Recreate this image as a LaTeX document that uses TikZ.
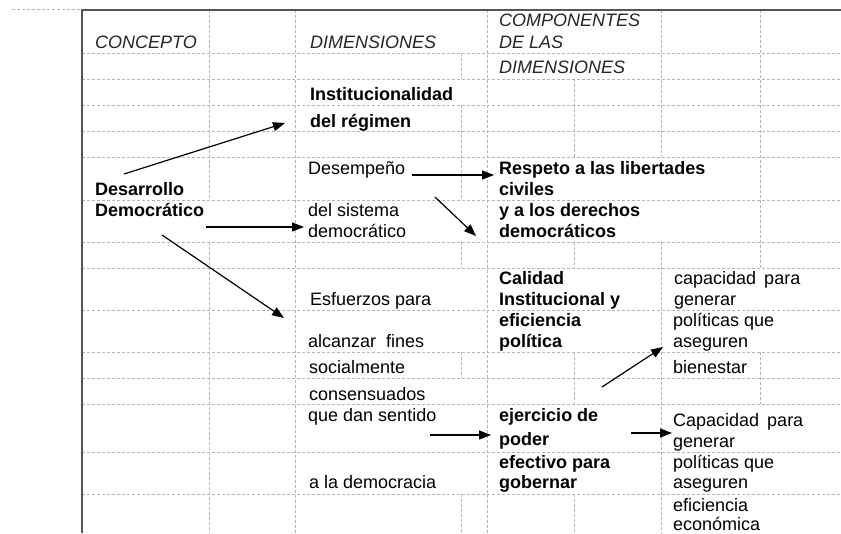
\documentclass[tikz,border=0pt]{standalone}
\usepackage{fontspec}
\setmainfont{Liberation Sans}
\usetikzlibrary{arrows.meta}
\definecolor{gridblue}{HTML}{A7B7CE}
\definecolor{rulegray}{HTML}{555555}

\begin{document}
\begin{tikzpicture}[x=1pt, y=-1pt,
    gridline/.style={draw=gridblue, line width=0.9pt, dash pattern=on 3pt off 2pt},
    cell/.style={anchor=base west, inner sep=0pt, font=\fontsize{18}{21}\selectfont},
    head/.style={cell, text=black!85, font=\fontsize{18}{21}\selectfont\itshape},
    strong/.style={cell, font=\fontsize{18}{21}\selectfont\bfseries},
    link/.style={-{Triangle[length=12pt,width=9pt]}, line width=1.2pt}]

\useasboundingbox (0,0) rectangle (841,533);

% Horizontal grid lines
\foreach \y in {53,79,105,131,157,200,242,268,310,352,378,404,452,494} {
    \draw[gridline] (82,\y) -- (841,\y);
}
\draw[gridline] (12,9) -- (82,9);

% Vertical grid lines (only where cells are not merged)
\foreach \x/\ya/\yb in {209/10/200, 209/242/533, 295/10/533,
    461/53/79, 461/105/200, 461/242/268, 461/352/378, 461/494/533,
    487/10/533,
    574/79/157, 574/242/268, 574/352/404, 574/494/533,
    661/10/157, 661/242/533,
    760/10/268, 760/352/404} {
    \draw[gridline] (\x,\ya) -- (\x,\yb);
}

% Table border
\draw[rulegray, line width=1.8pt] (82,533) -- (82,10) -- (841,10);

% Headers
\node[head] (concepto) at (95,48) {CONCEPTO};
\node[head] (dimensiones) at (310,48) {DIMENSIONES};
\node[head] (comp1) at (499,26) {COMPONENTES};
\node[head] (comp2) at (499,48) {DE LAS};
\node[head] (comp3) at (499,73) {DIMENSIONES};

% Concept
\node[strong] (concept1) at (95,195) {Desarrollo};
\node[strong] (concept2) at (95,216) {Democrático};

% Dimensions
\node[strong] (inst1) at (310,100) {Institucionalidad};
\node[strong] (inst2) at (310,127) {del régimen};
\node[cell] (des1) at (308,174) {Desempeño};
\node[cell] (des2) at (308,216) {del sistema};
\node[cell] (des3) at (308,237) {democrático};
\node[cell] (esf1) at (310,305) {Esfuerzos para};
\node[cell] (esf2) at (308,347) {alcanzar\hspace{5pt} fines};
\node[cell] (esf3) at (309,373) {socialmente};
\node[cell] (esf4) at (309,400) {consensuados};
\node[cell] (esf5) at (308,421) {que dan sentido};
\node[cell] (esf6) at (309,488) {a la democracia};

% Components
\node[strong] (resp1) at (499,174) {Respeto a las libertades};
\node[strong] (resp2) at (499,195) {civiles};
\node[strong] (resp3) at (499,216) {y a los derechos};
\node[strong] (resp4) at (499,237) {democráticos};
\node[strong] (cal1) at (499,284) {Calidad};
\node[strong] (cal2) at (499,305) {Institucional y};
\node[strong] (cal3) at (499,326) {eficiencia};
\node[strong] (cal4) at (499,347) {política};
\node[strong] (ejer1) at (499,421) {ejercicio de};
\node[strong] (ejer2) at (499,445) {poder};
\node[strong] (ejer3) at (499,468) {efectivo para};
\node[strong] (ejer4) at (499,488) {gobernar};

% Capacities
\node[cell] (cap1) at (674,284) {capacidad\hspace{3pt} para};
\node[cell] (cap2) at (674,305) {generar};
\node[cell] (cap3) at (673,326) {políticas que};
\node[cell] (cap4) at (673,347) {aseguren};
\node[cell] (cap5) at (673,373) {bienestar};
\node[cell] (gen1) at (673,426) {Capacidad\hspace{3pt} para};
\node[cell] (gen2) at (673,447) {generar};
\node[cell] (gen3) at (673,468) {políticas que};
\node[cell] (gen4) at (673,488) {aseguren};
\node[cell] (gen5) at (673,511) {eficiencia};
\node[cell] (gen6) at (673,530) {económica};

% Arrow ends
\coordinate (a1) at (124,174); \coordinate (b1) at (285,123);
\coordinate (a2) at (412,175); \coordinate (b2) at (494,175);
\coordinate (a3) at (435,197); \coordinate (b3) at (476,236);
\coordinate (a4) at (206,227); \coordinate (b4) at (304,227);
\coordinate (a5) at (162,235); \coordinate (b5) at (284,318);
\coordinate (a6) at (602,387); \coordinate (b6) at (663,347);
\coordinate (a7) at (430,435); \coordinate (b7) at (491,435);
\coordinate (a8) at (631,433); \coordinate (b8) at (672,433);

% Arrows
\foreach \i in {1,...,8} {
    \draw[link] (a\i) -- (b\i);
}

\end{tikzpicture}
\end{document}
